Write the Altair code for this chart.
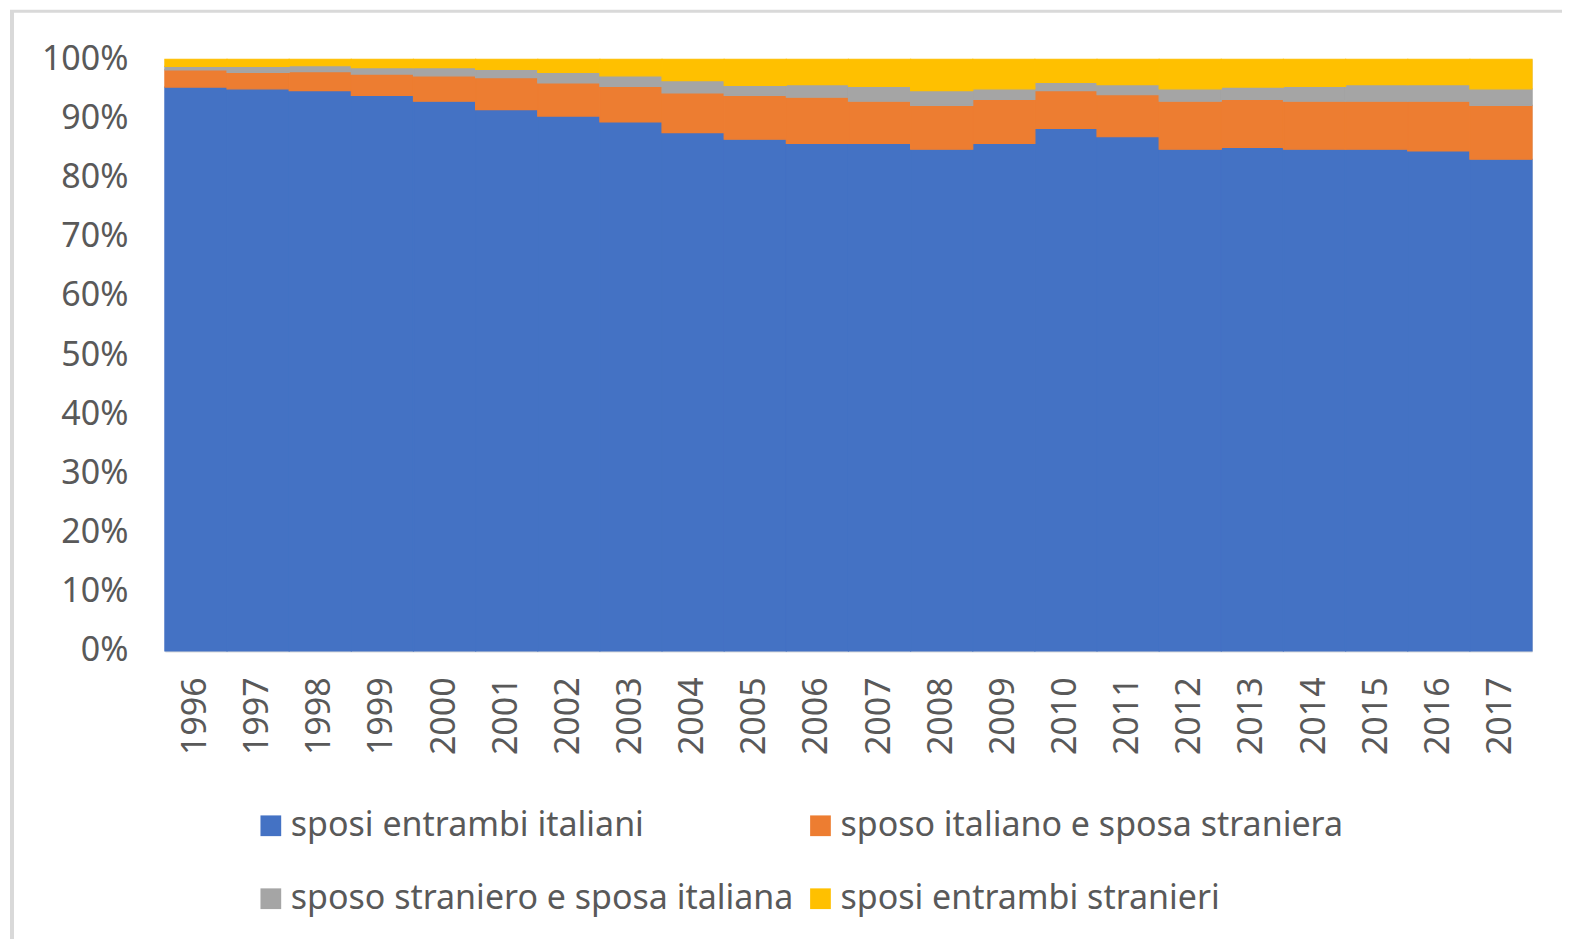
import altair as alt
import pandas as pd

years = [str(y) for y in range(1996, 2018)]
series = ["sposi entrambi italiani", "sposo italiano e sposa straniera",
          "sposo straniero e sposa italiana", "sposi entrambi stranieri"]
colors = ["#4472C4", "#ED7D31", "#A5A5A5", "#FFC000"]

both_italian = [95.3, 95.0, 94.7, 93.9, 92.9, 91.5, 90.4, 89.4, 87.6, 86.5, 85.8,
                85.8, 84.8, 85.8, 88.3, 86.9, 84.8, 85.1, 84.8, 84.8, 84.5, 83.1]
it_groom_foreign_bride = [2.9, 2.8, 3.2, 3.6, 4.3, 5.4, 5.6, 6.0, 6.7, 7.4, 7.8,
                          7.1, 7.4, 7.4, 6.4, 7.1, 8.1, 8.1, 8.1, 8.1, 8.4, 9.1]
foreign_groom_it_bride = [0.6, 1.0, 1.0, 1.1, 1.4, 1.4, 1.8, 1.8, 2.1, 1.7, 2.1,
                          2.5, 2.5, 1.8, 1.4, 1.7, 2.1, 2.1, 2.5, 2.8, 2.8, 2.8]
both_foreign = [1.2, 1.2, 1.1, 1.4, 1.4, 1.7, 2.2, 2.8, 3.6, 4.4, 4.3,
                4.6, 5.3, 5.0, 3.9, 4.3, 5.0, 4.7, 4.6, 4.3, 4.3, 5.0]

y_ticks = [i / 10 for i in range(11)]

rows = []
for k, vals in enumerate([both_italian, it_groom_foreign_bride,
                          foreign_groom_it_bride, both_foreign]):
    for yr, v in zip(years, vals):
        rows.append({"anno": yr, "serie": series[k], "ord": k, "valore": v})
df = pd.DataFrame(rows)

FONT = "Noto Sans"
TXT = "#595959"

color_scale = alt.Scale(domain=series, range=colors)

bars = alt.Chart(df).mark_bar(strokeWidth=1.2, opacity=1).encode(
    x=alt.X("anno:N", sort=years,
            scale=alt.Scale(paddingInner=0, paddingOuter=0),
            axis=alt.Axis(title=None, labelAngle=270, labelFont=FONT,
                          labelFontSize=34, labelColor=TXT, labelPadding=26,
                          ticks=False, tickSize=0, domain=True,
                          domainColor="#D9D9D9", domainWidth=2)),
    y=alt.Y("valore:Q", stack="normalize",
            scale=alt.Scale(domain=[0, 1], nice=False),
            axis=alt.Axis(title=None, format=".0%", values=y_ticks,
                          labelFont=FONT, labelFontSize=34, labelColor=TXT,
                          labelPadding=37, ticks=False, tickSize=0,
                          domain=False, grid=False)),
    color=alt.Color("serie:N", scale=color_scale,
                    legend=alt.Legend(title=None, orient="none",
                                      legendX=89, legendY=750, columns=2,
                                      direction="horizontal",
                                      symbolType="square", symbolSize=430,
                                      symbolStrokeWidth=0, labelFont=FONT,
                                      labelFontSize=34, labelColor=TXT,
                                      labelLimit=1000, labelOffset=3,
                                      columnPadding=10, rowPadding=39,
                                      padding=0)),
    stroke=alt.Stroke("serie:N", scale=color_scale, legend=None),
    order=alt.Order("ord:Q", sort="ascending"),
)

frame_df = pd.DataFrame({"k": [0]})
left_line = alt.Chart(frame_df).mark_rule(color="#D9D9D9", strokeWidth=4).encode(
    x=alt.value(-153), y=alt.value(-49), y2=alt.value(900))
top_line = alt.Chart(frame_df).mark_rule(color="#D9D9D9", strokeWidth=3).encode(
    x=alt.value(-155), x2=alt.value(1420), y=alt.value(-48))

chart = alt.layer(bars, left_line, top_line).properties(
    width=1368, height=592,
    autosize=alt.AutoSizeParams(type="none"),
    padding={"left": 157, "top": 51, "right": 30, "bottom": 288},
).configure_view(stroke=None).configure(background="white")

chart.save("out.html", embed_options={"renderer": "svg", "actions": False})
